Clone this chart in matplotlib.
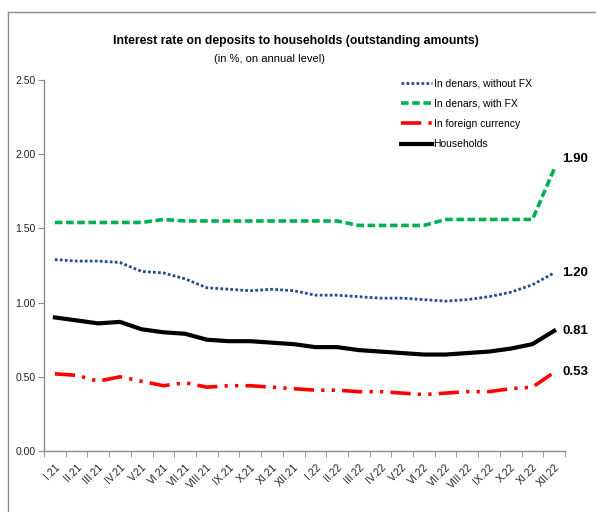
import numpy as np
import matplotlib.pyplot as plt
from matplotlib.lines import Line2D

plt.rcParams['font.family'] = ['Liberation Sans', 'DejaVu Sans']

months = ['I.21', 'II.21', 'III.21', 'IV.21', 'V.21', 'VI.21', 'VII.21', 'VIII.21',
          'IX.21', 'X.21', 'XI.21', 'XII.21', 'I.22', 'II.22', 'III.22', 'IV.22',
          'V.22', 'VI.22', 'VII.22', 'VIII.22', 'IX.22', 'X.22', 'XI.22', 'XII.22']

denars_no_fx = [1.29, 1.28, 1.28, 1.27, 1.21, 1.20, 1.16, 1.10, 1.09, 1.08, 1.09, 1.08,
                1.05, 1.05, 1.04, 1.03, 1.03, 1.02, 1.01, 1.02, 1.04, 1.07, 1.12, 1.20]
denars_fx = [1.54, 1.54, 1.54, 1.54, 1.54, 1.56, 1.55, 1.55, 1.55, 1.55, 1.55, 1.55,
             1.55, 1.55, 1.52, 1.52, 1.52, 1.52, 1.56, 1.56, 1.56, 1.56, 1.56, 1.90]
foreign = [0.52, 0.51, 0.47, 0.50, 0.47, 0.44, 0.46, 0.43, 0.44, 0.44, 0.43, 0.42,
           0.41, 0.41, 0.40, 0.40, 0.39, 0.38, 0.39, 0.40, 0.40, 0.42, 0.43, 0.53]
households = [0.90, 0.88, 0.86, 0.87, 0.82, 0.80, 0.79, 0.75, 0.74, 0.74, 0.73, 0.72,
              0.70, 0.70, 0.68, 0.67, 0.66, 0.65, 0.65, 0.66, 0.67, 0.69, 0.72, 0.81]

x = np.arange(len(months))

fig = plt.figure(figsize=(5.96, 5.12), dpi=100)
ax = fig.add_axes([44 / 596, 1 - 451 / 512, (565 - 44) / 596, (451 - 80) / 512])

ax.plot(x, denars_no_fx, color='#234f8f', lw=2.0, linestyle=(0, (1, 0.8)),
        label='In denars, without FX')
ax.plot(x, denars_fx, color='#00b050', lw=2.6, linestyle=(0, (2.1, 1.0)),
        label='In denars, with FX')
ax.plot(x, foreign, color='#ff0000', lw=2.6, linestyle=(0, (5.6, 2.0, 0.9, 2.0, 0.9, 2.0)),
        label='In foreign currency')
ax.plot(x, households, color='black', lw=3.0, label='Households')

# end labels
for vals, dy in [(denars_fx, 7), (denars_no_fx, 0), (households, 0), (foreign, 0)]:
    ax.annotate(f'{vals[-1]:.2f}', (x[-1], vals[-1]), xytext=(6, dy),
                textcoords='offset points', fontsize=9.5, fontweight='bold',
                va='center', ha='left', annotation_clip=False)

ax.set_xlim(-0.5, len(months) - 0.5)
ax.set_ylim(0, 2.5)
ax.set_yticks([0, 0.5, 1.0, 1.5, 2.0, 2.5])
ax.set_yticklabels([f'{v:.2f}' for v in [0, 0.5, 1.0, 1.5, 2.0, 2.5]])
ax.set_xticks(x)
ax.set_xticklabels(months, rotation=45, ha='right', rotation_mode='anchor')
ax.set_xticks(np.arange(len(months) + 1) - 0.5, minor=True)
ax.tick_params(axis='x', which='major', length=0, pad=8, labelsize=7.5, labelcolor='#222222')
ax.tick_params(axis='x', which='minor', length=4, color='#8c8c8c', direction='out')
ax.tick_params(axis='y', length=4, color='#8c8c8c', labelsize=7.5, labelcolor='#222222', pad=2)

for s in ['top', 'right']:
    ax.spines[s].set_visible(False)
for s in ['left', 'bottom']:
    ax.spines[s].set_color('#8c8c8c')
    ax.spines[s].set_linewidth(1)

ax.legend(loc='upper left', bbox_to_anchor=(396 / 596, 1 - 73 / 512),
          bbox_transform=fig.transFigure, frameon=False, fontsize=7.5,
          handlelength=3.0, handletextpad=0.1, labelspacing=1.0, borderpad=0)

fig.text(296 / 596, 1 - 41 / 512, 'Interest rate on deposits to households (outstanding amounts)',
         ha='center', va='center', fontsize=8.8, fontweight='bold')
fig.text(270 / 596, 1 - 59 / 512, '(in %, on annual level)', ha='center', va='center', fontsize=8)

# outer frame (top and left edges visible)
fig.add_artist(Line2D([8 / 596, 8 / 596], [0, 1 - 12 / 512], transform=fig.transFigure,
                      color='#8c8c8c', lw=1))
fig.add_artist(Line2D([8 / 596, 1], [1 - 12 / 512, 1 - 12 / 512], transform=fig.transFigure,
                      color='#8c8c8c', lw=1))

fig.savefig('out.png', dpi=100)
